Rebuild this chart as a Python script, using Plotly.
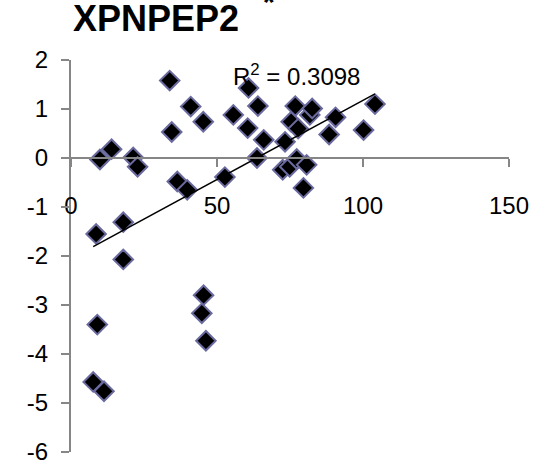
import numpy as np
import plotly.graph_objects as go

# Data
x_vals = [7.6, 8.6, 9.0, 9.9, 11.3, 13.9, 17.9, 17.9, 21.3, 22.8,
          33.8, 34.5, 36.4, 39.8, 41.0, 44.8, 45.3, 45.4, 46.2, 52.7,
          55.6, 60.5, 60.8, 63.7, 64.0, 66.0, 72.5, 73.3, 74.9, 75.4,
          76.8, 77.3, 77.8, 79.6, 80.7, 81.8, 82.6, 88.4, 90.6, 100.2, 104.1]
y_vals = [-4.57, -1.55, -3.40, -0.03, -4.76, 0.18, -1.31, -2.07, 0.01, -0.18,
          1.58, 0.53, -0.48, -0.65, 1.05, -3.17, 0.74, -2.80, -3.73, -0.39,
          0.88, 0.61, 1.43, 0.00, 1.06, 0.37, -0.24, 0.33, -0.18, 0.74,
          1.06, -0.02, 0.60, -0.61, -0.14, 0.88, 1.01, 0.48, 0.83, 0.57, 1.10]

title_text = "XPNPEP2"
r2_text = "R<sup>2</sup> = 0.3098"

x_tickvals = [0, 50, 100, 150]
x_ticktext = ["0", "50", "100", "150"]
y_tickvals = [-6, -5, -4, -3, -2, -1, 0, 1, 2]
y_ticktext = ["-6", "-5", "-4", "-3", "-2", "-1", "0", "1", "2"]

# Linear trendline
slope, intercept = np.polyfit(x_vals, y_vals, 1)
tx = [min(x_vals), max(x_vals)]
ty = [slope * v + intercept for v in tx]

FONT = "Liberation Sans, Arial, sans-serif"
AXIS_GREY = "#868686"

fig = go.Figure()
fig.add_trace(go.Scatter(
    x=x_vals, y=y_vals, mode="markers",
    marker=dict(symbol="diamond", size=15, color="black",
                line=dict(color="#6A6A9E", width=2)),
    showlegend=False, hoverinfo="skip"))
fig.add_trace(go.Scatter(
    x=tx, y=ty, mode="lines",
    line=dict(color="black", width=1.5),
    showlegend=False, hoverinfo="skip"))

fig.update_layout(
    template="none",
    width=534, height=465,
    margin=dict(l=71, r=25, t=60, b=13),
    paper_bgcolor="white", plot_bgcolor="white",
    font=dict(family=FONT, size=24, color="black"),
    showlegend=False,
    xaxis=dict(range=[0, 150], tickvals=x_tickvals, ticktext=x_ticktext,
               showgrid=False, zeroline=False, showline=True, automargin=False,
               linecolor=AXIS_GREY, linewidth=2,
               ticks="outside", ticklen=8, tickwidth=2, tickcolor=AXIS_GREY,
               anchor="free", position=0.75, ticklabelstandoff=18,
               ticklabeloverflow="allow",
               tickfont=dict(family=FONT, size=24, color="black")),
    yaxis=dict(range=[-6, 2], tickvals=y_tickvals, ticktext=y_ticktext,
               showgrid=False, zeroline=False, showline=True, automargin=False,
               linecolor=AXIS_GREY, linewidth=2,
               ticks="outside", ticklen=8, tickwidth=2, tickcolor=AXIS_GREY,
               ticklabelstandoff=8, ticklabeloverflow="allow",
               tickfont=dict(family=FONT, size=24, color="black")),
    annotations=[
        dict(text="<b>" + title_text + "</b>", xref="paper", yref="paper",
             x=0.0, y=1.0, yshift=64, xanchor="left", yanchor="top",
             showarrow=False, font=dict(family=FONT, size=36, color="black")),
        dict(text="<b>*</b>", xref="paper", yref="paper",
             x=(269 - 71) / 438, y=1.0, yshift=77, xanchor="center", yanchor="top",
             showarrow=False, font=dict(family=FONT, size=30, color="black")),
        dict(text=r2_text, xref="paper", yref="paper",
             x=(231 - 71) / 438, y=(452 - 75) / 392, xanchor="left", yanchor="middle",
             showarrow=False, font=dict(family=FONT, size=24, color="black")),
    ],
)

fig.write_html("out.html")
